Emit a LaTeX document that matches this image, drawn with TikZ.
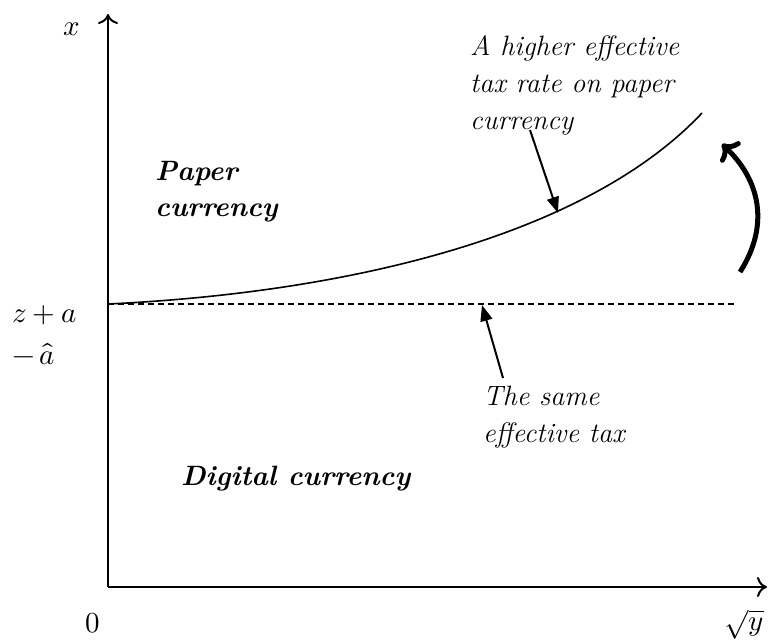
\documentclass[tikz,border=0pt]{standalone}
\usepackage{fontspec}
\usepackage{unicode-math}
\setmathfont{Latin Modern Math}
\usetikzlibrary{arrows.meta}
\tikzset{
  axis/.style={line width=2pt, -{To[length=10pt,width=20pt,line width=2pt]}},
  note/.style={font=\fontsize{28}{37}\selectfont\itshape, align=left, inner sep=0pt},
  region/.style={font=\fontsize{28}{36}\selectfont\bfseries\itshape, align=left, inner sep=0pt},
  lbl/.style={font=\fontsize{29}{33}\selectfont, inner sep=0pt},
  pointer/.style={line width=2pt, -{Triangle[length=16pt,width=12pt]}},
}
\begin{document}
\begin{tikzpicture}[x=1pt,y=-1pt]
\useasboundingbox (0,0) rectangle (775,640);
% axes
\coordinate (O) at (108,587);
\coordinate (ytop) at (108,14);
\coordinate (xend) at (767,587);
\draw[axis] (O) -- (ytop);
\draw[axis] (O) -- (xend);
% axis labels
\node[lbl, anchor=base] (xl) at (72,35) {$x$};
\node[lbl, anchor=base] (zero) at (93,632) {$0$};
\node[lbl, anchor=base] (sy) at (744,630) {$\sqrt{y}$};
\node[lbl, anchor=base west] (za1) at (12,322) {$z+a$};
\node[lbl, anchor=base west] (za2) at (12,364) {$-\,\hat a$};
% threshold and tax curve
\coordinate (start) at (108,304);
\coordinate (dend) at (735,304);
\coordinate (cend) at (702,113);
\draw[line width=1.2pt, dash pattern=on 6pt off 4pt] (start) -- (dend);
\draw[line width=1.6pt] (start) .. controls (360,292) and (590,232) .. (cend);
% region labels
\node[region, anchor=base west] (paper) at (155,216) {Paper\\currency};
\node[region, anchor=base west] (digital) at (181,485) {Digital currency};
% notes with pointers
\node[note, anchor=base west] (hi) at (470,129) {A higher effective\\tax rate on paper\\currency};
\node[note, anchor=base west] (same) at (483,442) {The same\\effective tax};
\coordinate (hiS) at (530,130);
\coordinate (hiT) at (558,213);
\draw[pointer] (hiS) -- (hiT);
\coordinate (sameS) at (503,378);
\coordinate (sameT) at (482,305);
\draw[pointer] (sameS) -- (sameT);
% shift arrow
\coordinate (shS) at (740,272);
\coordinate (shT) at (722,144);
\draw[line width=5pt, -{To[length=14pt,width=28pt,line width=5pt]}] (shS) .. controls (770,225) and (760,180) .. (shT);
\end{tikzpicture}
\end{document}
